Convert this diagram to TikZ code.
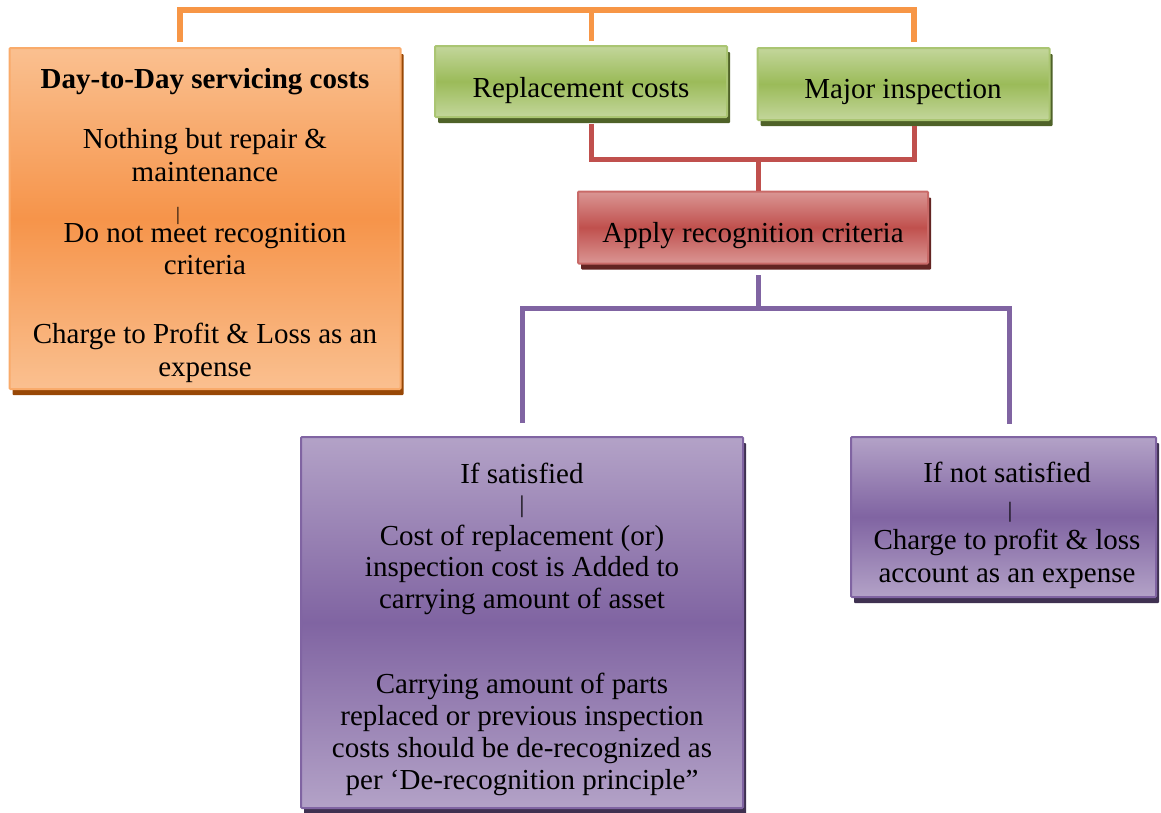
\documentclass[tikz,border=0pt]{standalone}
\usepackage{fontspec}
\setmainfont{Liberation Serif}
\usetikzlibrary{shadows}
\definecolor{orL}{HTML}{FAC090}
\definecolor{orM}{HTML}{F6944A}
\definecolor{orD}{HTML}{984806}
\definecolor{orB}{HTML}{F79646}
\definecolor{grL}{HTML}{C3D69B}
\definecolor{grM}{HTML}{9BBB59}
\definecolor{grD}{HTML}{4F6228}
\definecolor{rdL}{HTML}{DA9694}
\definecolor{rdM}{HTML}{C0504D}
\definecolor{rdD}{HTML}{632523}
\definecolor{puL}{HTML}{B3A2C7}
\definecolor{puM}{HTML}{8064A2}
\definecolor{puD}{HTML}{3F3151}
\newcommand{\tfont}{\fontsize{29}{33}\selectfont}
\begin{document}
\begin{tikzpicture}[x=1pt,y=-1pt,
  box/.style={inner sep=0pt, line width=2pt, rounded corners=1pt},
  obox/.style={box, draw=orB!80, top color=orL, bottom color=orL, middle color=orM,
    general shadow={fill=orD, shadow xshift=3pt, shadow yshift=-6pt}},
  gbox/.style={box, draw=grM!85, top color=grL, bottom color=grL, middle color=grM,
    general shadow={fill=grD, shadow xshift=3pt, shadow yshift=-6pt}},
  rbox/.style={box, draw=rdM!85, top color=rdL, bottom color=rdL, middle color=rdM,
    general shadow={fill=rdD, shadow xshift=3pt, shadow yshift=-6pt}},
  pbox/.style={box, draw=puM, top color=puL, bottom color=puL, middle color=puM,
    general shadow={fill=puD, shadow xshift=3pt, shadow yshift=-6pt}},
  txt/.style={anchor=base, inner sep=0pt, font=\tfont},
  bar/.style={anchor=base, inner sep=0pt},
  oline/.style={draw=orB, line width=5.5pt},
  rline/.style={draw=rdM, line width=5pt},
  pline/.style={draw=puM, line width=5pt},
]
\useasboundingbox (0,0) rectangle (1161,812);

% boxes
\node[obox, minimum width=391pt, minimum height=341pt] (dd) at (205,218.5) {};
\node[gbox, minimum width=292pt, minimum height=71pt] (rep) at (581,81.5) {};
\node[gbox, minimum width=292pt, minimum height=72pt] (maj) at (903.5,84) {};
\node[rbox, minimum width=350pt, minimum height=72pt] (app) at (753,227.5) {};
\node[pbox, minimum width=442pt, minimum height=371pt] (sat) at (522,622.5) {};
\node[pbox, minimum width=305pt, minimum height=160pt] (nsat) at (1003.5,517) {};

% orange box texts
\node[txt, font=\tfont\bfseries] (d1) at (205,88) {Day-to-Day servicing costs};
\node[txt] (d2) at (205,148) {Nothing but repair \&};
\node[txt] (d3) at (205,181) {maintenance};
\node[bar, font=\fontsize{19}{19}\selectfont] (d4) at (178,220) {|};
\node[txt] (d5) at (205,242) {Do not meet recognition};
\node[txt] (d6) at (205,274) {criteria};
\node[txt] (d7) at (205,343) {Charge to Profit \& Loss as an};
\node[txt] (d8) at (205,376) {expense};

% green / red texts
\node[txt] (g1) at (581,97) {Replacement costs};
\node[txt] (g2) at (903,98) {Major inspection};
\node[txt] (r1) at (753,242) {Apply recognition criteria};

% purple left texts
\node[txt] (s1) at (522,483) {If satisfied};
\node[bar, font=\fontsize{24}{24}\selectfont] (s2) at (522,512) {|};
\node[txt] (s3) at (522,545) {Cost of replacement (or)};
\node[txt] (s4) at (522,576) {inspection cost is Added to};
\node[txt] (s5) at (522,608) {carrying amount of asset};
\node[txt] (s6) at (522,693) {Carrying amount of parts};
\node[txt] (s7) at (522,725) {replaced or previous inspection};
\node[txt] (s8) at (522,757) {costs should be de-recognized as};
\node[txt] (s9) at (522,789) {per ‘De-recognition principle”};

% purple right texts
\node[txt] (n1) at (1007,482) {If not satisfied};
\node[bar, font=\fontsize{22}{22}\selectfont] (n2) at (1010,517) {|};
\node[txt] (n3) at (1007,549) {Charge to profit \& loss};
\node[txt] (n4) at (1007,582) {account as an expense};

% orange connector
\coordinate (oA) at (180,42);
\coordinate (oB) at (591.5,41);
\coordinate (oC) at (914,42);
\coordinate (oT) at (591.5,10);
\draw[oline] (oA) |- (oT -| oC) -- (oC);
\draw[oline] (oB) -- (oT);

% red connector
\coordinate (rA) at (591.5,124);
\coordinate (rB) at (914,126);
\coordinate (rJ) at (758,159);
\draw[rline] (rA) |- (rJ) -| (rB);
\draw[rline] (rJ) -- (app.north -| rJ);

% purple connector
\coordinate (pS) at (758,275);
\coordinate (pJ) at (758,308);
\coordinate (pL) at (522,423);
\coordinate (pR) at (1009,424);
\draw[pline] (pS) -- (pJ);
\draw[pline] (pL) |- (pJ) -| (pR);
\end{tikzpicture}
\end{document}
